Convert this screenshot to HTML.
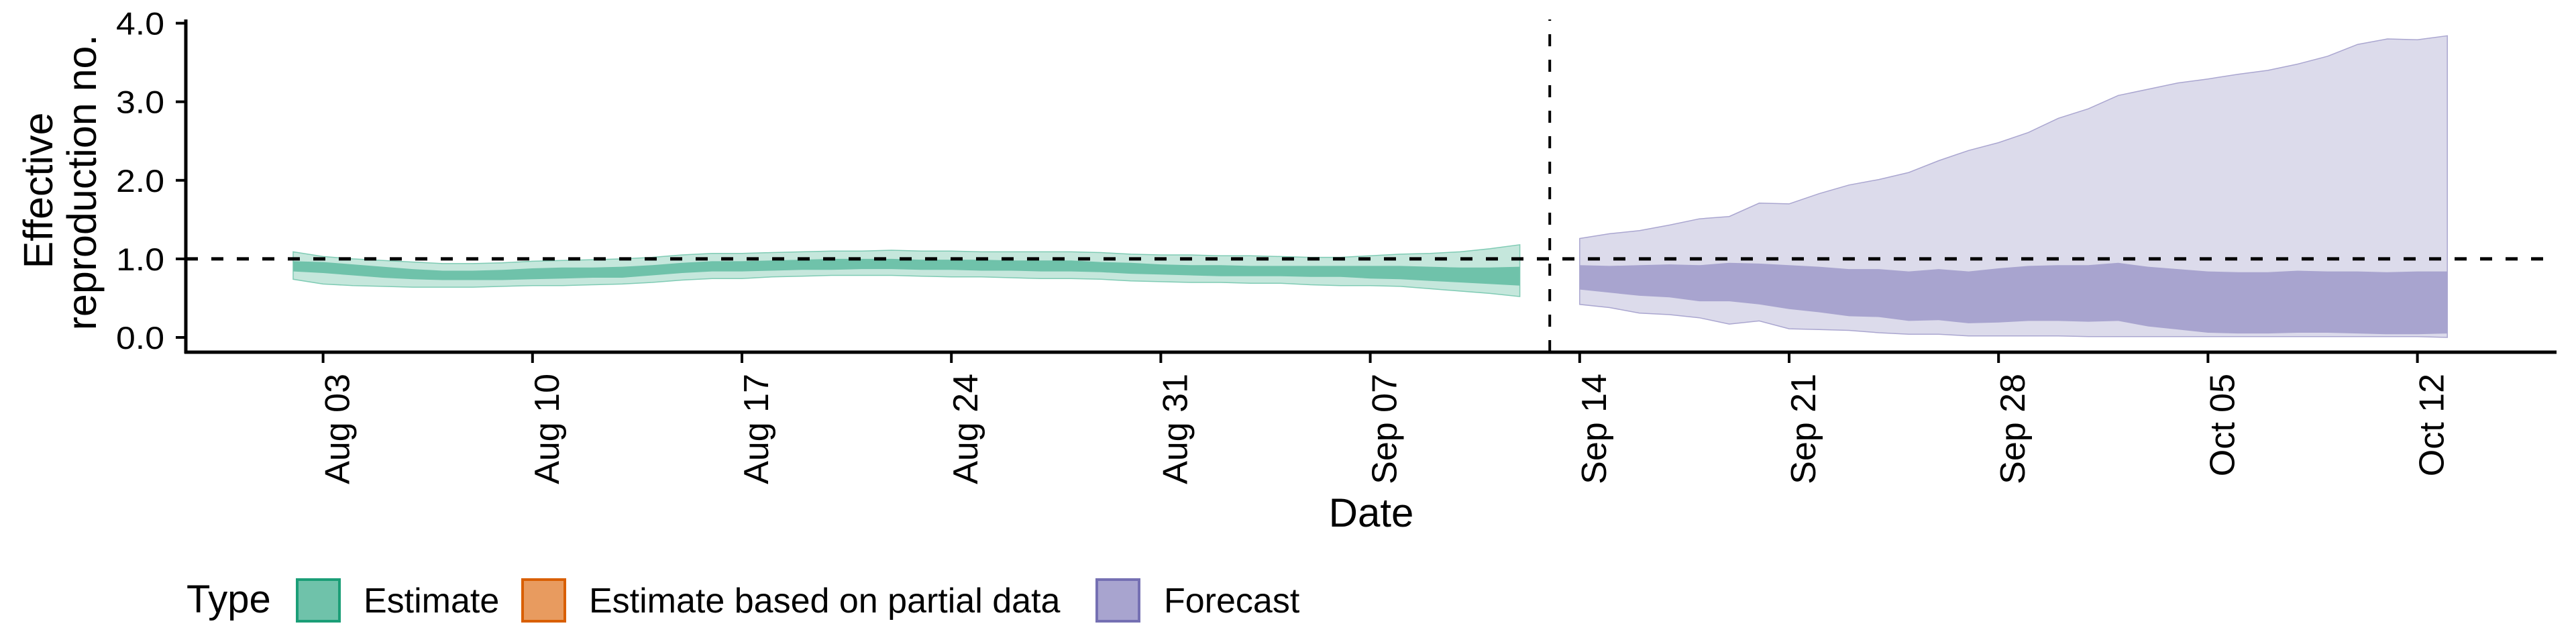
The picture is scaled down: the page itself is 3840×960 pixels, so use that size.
<!DOCTYPE html>
<html><head><meta charset="utf-8"><style>
html,body{margin:0;padding:0;background:#fff;}
svg{display:block;font-family:"Liberation Sans",sans-serif;}
</style></head><body>
<svg id="chart" width="3840" height="960" viewBox="0 0 3840 960" xmlns="http://www.w3.org/2000/svg">
<g id="bands"></g>
<g id="axes"></g>
<g id="legend"></g>
</svg>
<script>
// ---- data ----
const estStartDay = 0;   // Aug 02 (days since Aug 02)
const estOuterUpper = [1.09,1.03,1.00,0.98,0.96,0.94,0.94,0.95,0.97,0.98,0.99,1.00,1.02,1.05,1.07,1.07,1.08,1.09,1.10,1.10,1.11,1.10,1.10,1.09,1.09,1.09,1.09,1.08,1.06,1.05,1.05,1.04,1.04,1.03,1.02,1.02,1.04,1.06,1.07,1.09,1.13,1.18];
const estInnerUpper = [0.97,0.96,0.93,0.90,0.87,0.85,0.85,0.86,0.88,0.89,0.89,0.90,0.92,0.95,0.97,0.97,0.98,0.99,1.00,1.00,1.00,0.99,0.99,0.99,0.98,0.98,0.98,0.96,0.95,0.93,0.92,0.92,0.91,0.91,0.91,0.91,0.91,0.91,0.90,0.89,0.89,0.90];
const estInnerLower = [0.84,0.82,0.79,0.76,0.74,0.73,0.73,0.73,0.74,0.75,0.76,0.76,0.79,0.82,0.84,0.84,0.85,0.86,0.86,0.87,0.87,0.86,0.86,0.85,0.85,0.84,0.84,0.83,0.81,0.80,0.79,0.78,0.78,0.78,0.77,0.77,0.75,0.74,0.72,0.70,0.68,0.66];
const estOuterLower = [0.74,0.68,0.66,0.65,0.64,0.64,0.64,0.65,0.66,0.66,0.67,0.68,0.70,0.73,0.75,0.75,0.77,0.78,0.79,0.79,0.79,0.78,0.77,0.77,0.76,0.75,0.75,0.74,0.72,0.71,0.70,0.70,0.69,0.69,0.67,0.66,0.66,0.65,0.62,0.59,0.56,0.52];
const fcStartDay = 43;   // Sep 14
const fcOuterUpper = [1.26,1.32,1.36,1.43,1.51,1.54,1.71,1.70,1.83,1.94,2.01,2.10,2.25,2.38,2.48,2.61,2.79,2.91,3.08,3.16,3.24,3.29,3.35,3.40,3.48,3.58,3.73,3.80,3.79,3.84];
const fcInnerUpper = [0.92,0.91,0.92,0.93,0.92,0.95,0.94,0.92,0.90,0.87,0.87,0.84,0.87,0.84,0.88,0.91,0.92,0.92,0.95,0.90,0.87,0.84,0.83,0.83,0.85,0.84,0.84,0.83,0.84,0.84];
const fcInnerLower = [0.61,0.57,0.53,0.51,0.46,0.46,0.42,0.36,0.32,0.27,0.26,0.21,0.22,0.18,0.19,0.21,0.21,0.20,0.21,0.14,0.10,0.06,0.05,0.05,0.06,0.06,0.05,0.04,0.04,0.05];
const fcOuterLower = [0.42,0.38,0.31,0.29,0.25,0.17,0.21,0.11,0.10,0.09,0.06,0.04,0.04,0.02,0.02,0.02,0.02,0.01,0.01,0.01,0.01,0.01,0.01,0.01,0.01,0.01,0.01,0.01,0.01,0.00];
const xTickLabels = ["Aug 03","Aug 10","Aug 17","Aug 24","Aug 31","Sep 07","Sep 14","Sep 21","Sep 28","Oct 05","Oct 12"];
const xTickDays = [1,8,15,22,29,36,43,50,57,64,71];
const yTickValues = [0,1,2,3,4];
const yTickLabels = ["0.0","1.0","2.0","3.0","4.0"];
const refValue = 1.0;
const cutoffDay = 42;   // Sep 13
const legendLabels = ["Estimate","Estimate based on partial data","Forecast"];

// ---- scales ----
const X0 = 437, PXDAY = 44.6;
const xS = d => X0 + PXDAY * d;
const Y0 = 503, PXUNIT = 117.1;
const yS = v => Y0 - PXUNIT * v;
const NS = "http://www.w3.org/2000/svg";
function mk(tag, attrs, parent){ const e=document.createElementNS(NS,tag); for(const k in attrs) e.setAttribute(k,attrs[k]); parent.appendChild(e); return e; }

const bands = document.getElementById('bands');
function band(start, up, lo, fill, stroke, name){
  let pts=[];
  up.forEach((v,i)=>pts.push(xS(start+i).toFixed(1)+","+yS(v).toFixed(1)));
  for(let i=lo.length-1;i>=0;i--) pts.push(xS(start+i).toFixed(1)+","+yS(lo[i]).toFixed(1));
  const p = mk('polygon',{points:pts.join(" "),fill:fill,stroke:stroke||"none","stroke-width":stroke?1.5:0},bands);
  
  
}
band(estStartDay, estOuterUpper, estOuterLower, "#c5e7dc", "#7fcbb4", "estimate-outer-band");
band(estStartDay, estInnerUpper, estInnerLower, "#6fc2aa", null, "estimate-inner-band");
band(fcStartDay, fcOuterUpper, fcOuterLower, "#dcdbeb", "#aaa6d0", "forecast-outer-band");
band(fcStartDay, fcInnerUpper, fcInnerLower, "#a8a4cf", null, "forecast-inner-band");

const axes = document.getElementById('axes');
const XR = 3811, YB = 525, YT = 29;
let hl = mk('line',{x1:277,x2:XR,y1:yS(refValue),y2:yS(refValue),stroke:"#000","stroke-width":5,"stroke-dasharray":"18 20"},axes);


let vl = mk('line',{x1:xS(cutoffDay),x2:xS(cutoffDay),y1:YB,y2:YT,stroke:"#000","stroke-width":4,"stroke-dasharray":"18 20"},axes);


let ya = mk('line',{x1:277,x2:277,y1:YT,y2:YB+2,stroke:"#000","stroke-width":5},axes);


let xa = mk('line',{x1:275,x2:XR,y1:YB,y2:YB,stroke:"#000","stroke-width":5},axes);


yTickValues.forEach((v,i)=>{
  const t = mk('line',{x1:262,x2:277,y1:yS(v),y2:yS(v),stroke:"#000","stroke-width":4},axes);
  
  
  const tx = mk('text',{x:245,y:yS(v)+17,"text-anchor":"end","font-size":47,textLength:72,lengthAdjust:"spacingAndGlyphs",fill:"#000"},axes);
  tx.textContent = yTickLabels[i];
  
  
});
xTickDays.forEach((d,i)=>{
  const x = xS(d);
  const t = mk('line',{x1:x,x2:x,y1:YB,y2:541,stroke:"#000","stroke-width":4},axes);
  
  
  const tx = mk('text',{x:0,y:0,"text-anchor":"end","font-size":52,fill:"#000",transform:"translate("+(x+39)+",557) rotate(-90)"},axes);
  tx.textContent = xTickLabels[i];
  
  
});
let xt = mk('text',{x:2044,y:785,"text-anchor":"middle","font-size":60,fill:"#000"},axes);
xt.textContent="Date";


let yt1 = mk('text',{x:0,y:0,"text-anchor":"middle","font-size":61,fill:"#000",transform:"translate(78,284) rotate(-90)"},axes);
yt1.textContent="Effective";


let yt2 = mk('text',{x:0,y:0,"text-anchor":"middle","font-size":61,fill:"#000",transform:"translate(143,272) rotate(-90)"},axes);
yt2.textContent="reproduction no.";



const lg = document.getElementById('legend');
let lt = mk('text',{x:278,y:913,"font-size":58,fill:"#000"},lg);
lt.textContent="Type";


const keyX=[441,777,1633], txtX=[542,878,1735];
const keyFill=["#6fc2aa","#e89b5f","#a8a4cf"], keyStroke=["#1b9e77","#d95f02","#7570b3"];
legendLabels.forEach((lab,i)=>{
  const r = mk('rect',{x:keyX[i]+2,y:864,width:63,height:62,fill:keyFill[i],stroke:keyStroke[i],"stroke-width":4},lg);
  
  
  const t = mk('text',{x:txtX[i],y:913,"font-size":52,fill:"#000"},lg);
  t.textContent=lab;
  
  
});
</script>
</body></html>
